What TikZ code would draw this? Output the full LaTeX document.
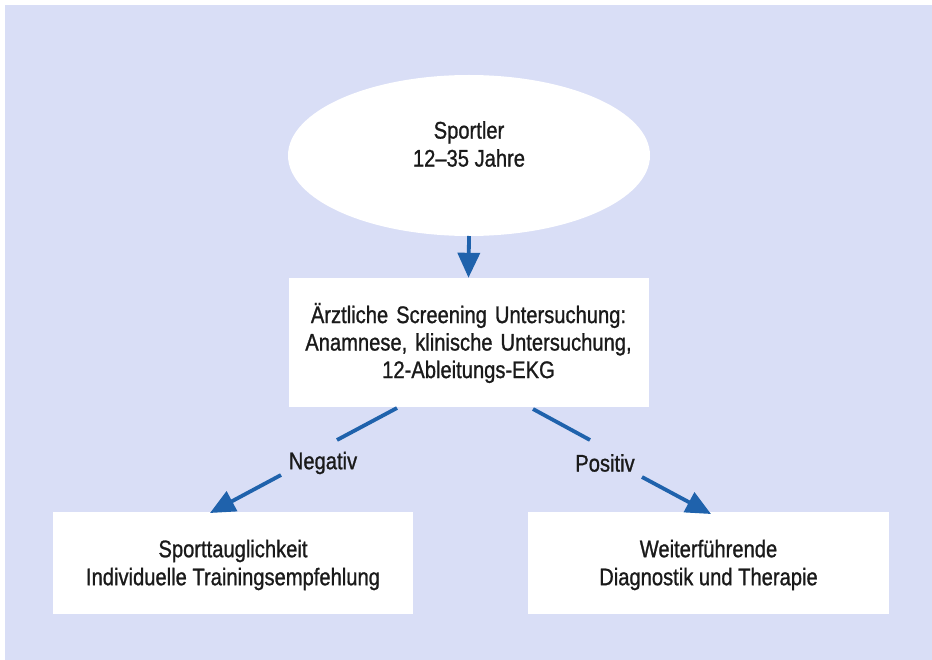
\documentclass[tikz,border=0pt]{standalone}
\usepackage{fontspec}
\setmainfont[FakeStretch=0.84,FakeBold=1]{Liberation Sans}
\usetikzlibrary{arrows.meta}
\definecolor{bglav}{HTML}{D9DEF6}
\definecolor{arrblue}{HTML}{1F62AC}
\definecolor{txtc}{HTML}{1A1A1A}
\begin{document}
\begin{tikzpicture}[x=1pt,y=-1pt,
  txt/.style={align=center,text=txtc,font=\fontsize{24}{28}\selectfont,inner sep=0pt},
  wbox/.style={fill=white,draw=none,inner sep=0pt},
  conn/.style={draw=arrblue,line width=3.8pt},
  arr/.style={conn,-{Triangle[length=25pt,width=22pt]}},
  lbl/.style={text=txtc,font=\fontsize{24}{28}\selectfont,inner sep=0pt}]
\fill[white] (0,0) rectangle (932,660);
\fill[bglav] (5,5) rectangle (932,660);
\useasboundingbox (0,0) rectangle (932,660);
% top ellipse
\fill[white] (469,155.5) ellipse [x radius=181, y radius=80.5];
\coordinate (topS) at (469,236);
\node[txt] (top) at (469,144) {Sportler\\12\textendash35 Jahre};
% middle box
\node[wbox,minimum width=360pt,minimum height=129pt] (mid) at (468.5,342.5) {};
\node[txt,text width=360pt,font=\fontsize{24}{27.5}\selectfont] (midt) at (468.5,343) {Ärztliche Screening Untersuchung:\\Anamnese, klinische Untersuchung,\\12-Ableitungs-EKG};
% bottom boxes
\node[wbox,minimum width=360pt,minimum height=102pt] (left) at (233,563) {};
\node[txt] (leftt) at (233,565) {Sporttauglichkeit\\Individuelle Trainingsempfehlung};
\node[wbox,minimum width=361pt,minimum height=102pt] (right) at (708.5,563) {};
\node[txt] (rightt) at (708.5,565) {Weiterführende\\Diagnostik und Therapie};
% labels
\node[lbl] (neg) at (323,463) {Negativ};
\node[lbl] (pos) at (605,463) {Positiv};
% connectors
\draw[arr] (topS) -- (mid.north);
\coordinate (n1) at (397,408);
\coordinate (n2) at (337,440);
\coordinate (n3) at (281,475);
\coordinate (n4) at (210,513);
\draw[conn] (n1) -- (n2);
\draw[arr] (n3) -- (n4);
\coordinate (p1) at (533,409);
\coordinate (p2) at (590,440);
\coordinate (p3) at (642,477);
\coordinate (p4) at (711,514);
\draw[conn] (p1) -- (p2);
\draw[arr] (p3) -- (p4);
\end{tikzpicture}
\end{document}
